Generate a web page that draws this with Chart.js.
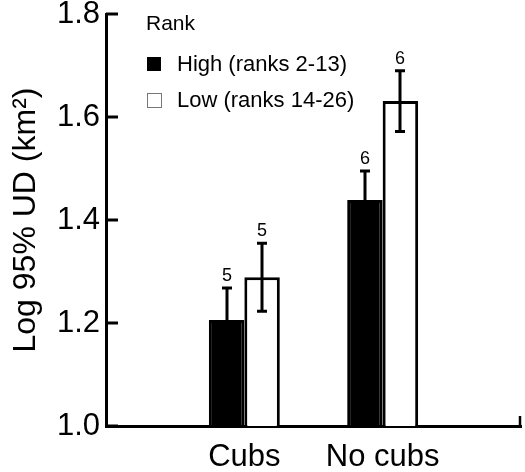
<!DOCTYPE html>
<html>
<head>
<meta charset="utf-8">
<title>Home range size by rank and reproductive state</title>
<script src="https://cdn.jsdelivr.net/npm/chart.js@4"></script>
<style>
  html, body { margin: 0; padding: 0; background: #fff; }
  canvas { display: block; }
</style>
</head>
<body>
<canvas id="chart" width="525" height="472"></canvas>
<script>
// Categories (empty slots at each end keep the two groups at 1/3 and 2/3 of the axis)
const categories = ['', 'Cubs', 'No cubs', ''];

// Mean log 95% UD (km²) per rank group
const highMeans = [null, 1.206, 1.439, null];
const lowMeans  = [null, 1.289, 1.631, null];

// Standard errors
const highSE = [null, 0.062, 0.056, null];
const lowSE  = [null, 0.066, 0.059, null];

// Sample sizes shown above each bar
const highN = [null, 5, 6, null];
const lowN  = [null, 5, 6, null];

// Y-axis ticks
const yTickValues = [1.0, 1.2, 1.4, 1.6, 1.8];
const yTickLabels = ['1.0', '1.2', '1.4', '1.6', '1.8'];

const seriesLabels = ['High (ranks 2-13)', 'Low (ranks 14-26)'];
const legendTitle = 'Rank';
const yTitle = 'Log 95% UD (km²)';

const FONT = '"Liberation Sans", Arial, Helvetica, sans-serif';

// Inward y ticks plus the small closing tick at the right end of the x axis
const axisTicks = {
  id: 'axisTicks',
  afterDraw(chart) {
    const { ctx, chartArea, scales } = chart;
    const y = scales.y;
    ctx.save();
    ctx.strokeStyle = '#000';
    ctx.lineWidth = 3;
    ctx.lineCap = 'butt';
    y.ticks.forEach(t => {
      const py = Math.round(y.getPixelForValue(t.value));
      ctx.beginPath();
      ctx.moveTo(chartArea.left, py);
      ctx.lineTo(chartArea.left + 12, py);
      ctx.stroke();
    });
    ctx.lineWidth = 2.5;
    ctx.beginPath();
    ctx.moveTo(chartArea.right - 1, chartArea.bottom);
    ctx.lineTo(chartArea.right - 1, chartArea.bottom - 10);
    ctx.stroke();
    ctx.restore();
  }
};

// Error bars and n labels
const errorBars = {
  id: 'errorBars',
  afterDatasetsDraw(chart) {
    const { ctx, scales } = chart;
    const y = scales.y;
    const seList = [highSE, lowSE];
    const nList = [highN, lowN];
    ctx.save();
    ctx.strokeStyle = '#000';
    ctx.fillStyle = '#000';
    ctx.lineWidth = 3;
    chart.data.datasets.forEach((ds, di) => {
      const meta = chart.getDatasetMeta(di);
      ds.data.forEach((v, i) => {
        if (v === null) return;
        const bar = meta.data[i];
        const se = seList[di][i];
        const x = Math.round(bar.x);
        const yt = y.getPixelForValue(v + se);
        const yb = y.getPixelForValue(v - se);
        ctx.beginPath();
        ctx.moveTo(x, yt); ctx.lineTo(x, yb);
        ctx.moveTo(x - 5, yt); ctx.lineTo(x + 5, yt);
        ctx.moveTo(x - 5, yb); ctx.lineTo(x + 5, yb);
        ctx.stroke();
        ctx.font = '18px ' + FONT;
        ctx.textAlign = 'center';
        ctx.textBaseline = 'alphabetic';
        ctx.fillText(String(nList[di][i]), x, yt - 7);
      });
    });
    ctx.restore();
  }
};

// Legend block inside the plot area
const rankLegend = {
  id: 'rankLegend',
  afterDraw(chart) {
    const { ctx } = chart;
    ctx.save();
    ctx.fillStyle = '#000';
    ctx.textAlign = 'left';
    ctx.textBaseline = 'alphabetic';
    ctx.font = '21px ' + FONT;
    ctx.fillText(legendTitle, 146, 30);
    ctx.font = '22px ' + FONT;
    // High
    ctx.fillRect(147, 57, 14, 14);
    ctx.fillText(chart.data.datasets[0].label, 177, 71);
    // Low
    ctx.strokeStyle = '#777';
    ctx.lineWidth = 1;
    ctx.strokeRect(147.5, 93.5, 14, 14);
    ctx.fillText(chart.data.datasets[1].label, 177, 107);
    ctx.restore();
  }
};

new Chart(document.getElementById('chart'), {
  type: 'bar',
  data: {
    labels: categories,
    datasets: [
      {
        label: seriesLabels[0],
        data: highMeans,
        backgroundColor: '#000',
        borderColor: '#000',
        borderWidth: 3,
        categoryPercentage: 0.513,
        barPercentage: 1.0
      },
      {
        label: seriesLabels[1],
        data: lowMeans,
        backgroundColor: '#fff',
        borderColor: '#000',
        borderWidth: 3,
        categoryPercentage: 0.513,
        barPercentage: 1.0
      }
    ]
  },
  options: {
    responsive: false,
    devicePixelRatio: 1,
    animation: false,
    layout: { padding: { top: 14, right: 4, left: 0, bottom: 0 } },
    plugins: {
      legend: { display: false },
      tooltip: { enabled: false }
    },
    scales: {
      x: {
        offset: false,
        grid: { display: false, drawTicks: false },
        border: { display: true, color: '#000', width: 3 },
        ticks: {
          color: '#000',
          padding: 13,
          maxRotation: 0,
          autoSkip: false,
          font: { family: FONT, size: 31 }
        },
        afterFit(scale) {
          scale.height = 46;
          scale.paddingLeft = 0;
          scale.paddingRight = 0;
        }
      },
      y: {
        min: 1.0,
        max: 1.8,
        afterBuildTicks(scale) {
          scale.ticks = yTickValues.map(v => ({ value: v }));
        },
        grid: { display: false, drawTicks: false },
        border: { display: true, color: '#000', width: 3 },
        ticks: {
          color: '#000',
          padding: 6,
          font: { family: FONT, size: 31 },
          callback: (v) => yTickLabels[yTickValues.indexOf(Math.round(v * 10) / 10)]
        },
        title: {
          display: true,
          text: yTitle,
          color: '#000',
          padding: { top: 7, bottom: 0 },
          font: { family: FONT, size: 32 }
        },
        afterFit(scale) {
          scale.width = 106;
          scale.paddingTop = 0;
          scale.paddingBottom = 0;
        }
      }
    }
  },
  plugins: [axisTicks, errorBars, rankLegend]
});
</script>
</body>
</html>
